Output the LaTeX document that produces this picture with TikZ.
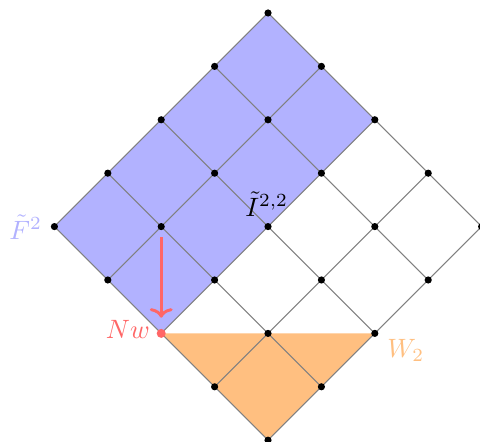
\documentclass[tikz,border=0pt]{standalone}
\usetikzlibrary{arrows.meta}
\begin{document}
\begin{tikzpicture}[
  gridline/.style={gray, line width=0.4pt},
  dot/.style={circle, fill=black, inner sep=0pt, minimum size=2.7pt},
  reddot/.style={circle, fill=red!60, inner sep=0pt, minimum size=3.4pt},
  redarrow/.style={red!60, line width=1.1pt, -{To[length=3.6pt,width=8.6pt]},
    shorten <=2.4pt, shorten >=4pt},
  lbl/.style={inner sep=0pt}
]
\useasboundingbox (-3.549,0.172) rectangle (2.807,-5.668);
\foreach \u in {0,...,4}{\foreach \v in {0,...,4}{
  \coordinate (p\u\v) at ({0.70711*(\u-\v)},{-0.70711*(\u+\v)});}}
\fill[blue!30] (p00)--(p20)--(p24)--(p04)--cycle;
\fill[orange!50] (p24)--(p42)--(p44)--cycle;
\foreach \i in {0,...,4}{
  \draw[gridline] (p\i0)--(p\i4);
  \draw[gridline] (p0\i)--(p4\i);}
\foreach \u in {0,...,4}{\foreach \v in {0,...,4}{
  \ifnum\u\v=24 \else \node[dot] (d\u\v) at (p\u\v) {};\fi}}
\node[reddot] (d24) at (p24) {};
\draw[redarrow] (d13) -- (d24);
\node[lbl, blue!30, anchor=base east, xshift=-4.5pt, yshift=-4.9pt] (lF) at (p04) {$\tilde F^2$};
\node[lbl, anchor=base, xshift=-0.5pt, yshift=3.8pt] (lI) at (p22) {$\tilde I^{2,2}$};
\node[lbl, red!60, anchor=base east, xshift=-4.1pt, yshift=-1.9pt] (lN) at (p24) {$Nw$};
\node[lbl, orange!50, anchor=base west, xshift=4.5pt, yshift=-9pt] (lW) at (p42) {$W_2$};
\end{tikzpicture}
\end{document}
